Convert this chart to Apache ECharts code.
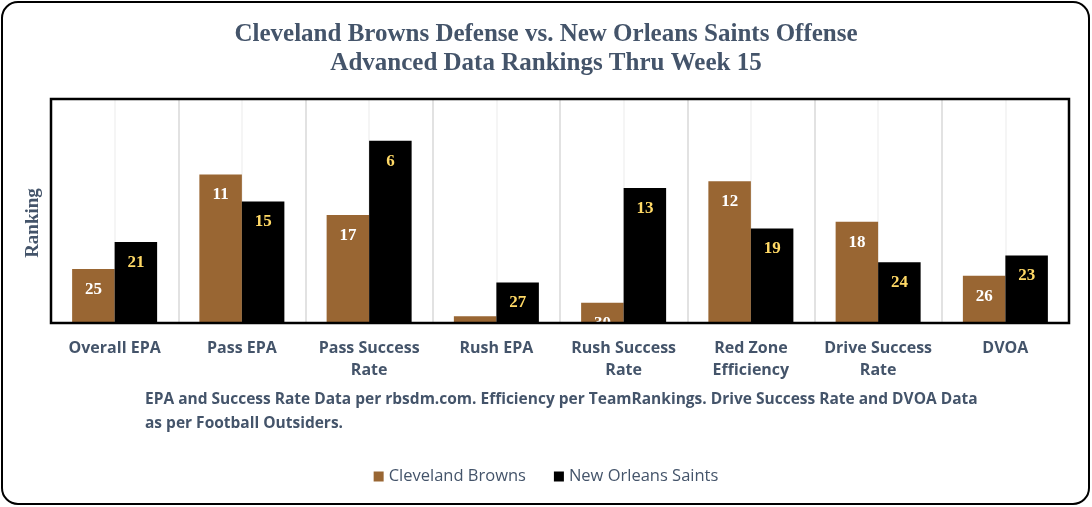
<!DOCTYPE html>
<html>
<head>
<meta charset="utf-8">
<script src="https://cdn.jsdelivr.net/npm/echarts@6/dist/echarts.min.js"></script>
<style>
html,body{margin:0;padding:0;background:#fff;}
#c{width:1092px;height:507px;}
</style>
</head>
<body>
<div id="c"></div>
<script>
const categories = ['Overall EPA', 'Pass EPA', 'Pass Success\nRate', 'Rush EPA', 'Rush Success\nRate', 'Red Zone\nEfficiency', 'Drive Success\nRate', 'DVOA'];
const seriesNames = ['Cleveland Browns', 'New Orleans Saints'];
// bar heights as drawn (taller = better ranking)
const brownsHeights = [8, 22, 16, 1, 3, 21, 15, 7];
const saintsHeights = [12, 18, 27, 6, 20, 14, 9, 10];
// ranking labels shown on bars
const brownsRanks = ['25', '11', '17', '', '30', '12', '18', '26'];
const saintsRanks = ['21', '15', '6', '27', '13', '19', '24', '23'];
const titleLines = ['Cleveland Browns Defense vs. New Orleans Saints Offense', 'Advanced Data Rankings Thru Week 15'];
const yAxisTitle = 'Ranking';
const footnote = 'EPA and Success Rate Data per rbsdm.com. Efficiency per TeamRankings. Drive Success Rate and DVOA Data\nas per Football Outsiders.';

const chart = echarts.init(document.getElementById('c'), null, {renderer: 'canvas'});
const slate = '#44546A';
const serif = '"Liberation Serif", "Times New Roman", serif';
const labelFont = {fontFamily: serif, fontWeight: 'bold', fontSize: 17};

chart.setOption({
  backgroundColor: '#fff',
  animation: false,
  title: [{
    text: titleLines.join('\n'),
    left: 'center',
    top: 15,
    textStyle: {fontFamily: serif, fontWeight: 'bold', fontSize: 25, color: slate, lineHeight: 29}
  }, {
    text: footnote,
    left: 140,
    top: 383,
    textStyle: {fontFamily: '"Liberation Sans Narrow", "Open Sans", sans-serif', fontWeight: 'bold', fontSize: 15.5, color: slate, lineHeight: 24}
  }],
  legend: {
    data: seriesNames,
    bottom: 17,
    left: 'center',
    itemWidth: 10,
    itemHeight: 10,
    itemGap: 28,
    icon: 'rect',
    textStyle: {fontFamily: '"Open Sans", "Liberation Sans", sans-serif', fontSize: 16.5, color: slate}
  },
  grid: {
    left: 51, right: 23, top: 99, bottom: 184,
    show: false
  },
  xAxis: [{
    type: 'category',
    data: categories,
    axisLine: {show: false},
    axisTick: {show: false},
    splitLine: {show: false},
    axisLabel: {
      interval: 0, margin: 14, color: slate,
      fontFamily: '"Liberation Sans Narrow", "Open Sans", sans-serif', fontWeight: 'bold', fontSize: 16, lineHeight: 22
    }
  }, {
    type: 'value', min: 0, max: 8, interval: 0.5, position: 'bottom',
    axisLine: {show: false}, axisTick: {show: false}, axisLabel: {show: false},
    splitLine: {show: true, lineStyle: {color: ['#d9d9d9', '#f2f2f2'], width: 1.5}}
  }],
  yAxis: {
    type: 'value', min: 0, max: 33.2,
    axisLine: {show: false}, axisTick: {show: false}, axisLabel: {show: false}, splitLine: {show: false}
  },
  series: [{
    name: seriesNames[0], type: 'bar', xAxisIndex: 0, data: brownsHeights,
    barWidth: 42.5, barGap: '0%',
    itemStyle: {color: '#996633'},
    label: {show: true, position: 'insideTop', distance: 12, color: '#ffffff', ...labelFont,
      formatter: p => brownsRanks[p.dataIndex]}
  }, {
    name: seriesNames[1], type: 'bar', xAxisIndex: 0, data: saintsHeights,
    barWidth: 42.5, barGap: '0%',
    itemStyle: {color: '#000000'},
    label: {show: true, position: 'insideTop', distance: 12, color: '#ffd966', ...labelFont,
      formatter: p => saintsRanks[p.dataIndex]}
  }],
  graphic: [{
    type: 'rect', z: 100, silent: true,
    shape: {x: 52, y: 324.5, width: 1016, height: 11},
    style: {fill: '#ffffff'}
  }, {
    type: 'rect', z: 101, silent: true,
    shape: {x: 51, y: 99, width: 1018, height: 224},
    style: {fill: 'none', stroke: '#000', lineWidth: 2.5}
  }, {
    type: 'text', z: 101, silent: true,
    x: 33, y: 223, rotation: Math.PI / 2,
    style: {text: yAxisTitle, fill: slate, font: 'bold 19px ' + serif, align: 'center', verticalAlign: 'middle'}
  }, {
    type: 'rect', z: 101, silent: true,
    shape: {x: 2, y: 2, width: 1087, height: 502, r: 16},
    style: {fill: 'none', stroke: '#000', lineWidth: 2}
  }]
});
</script>
</body>
</html>
